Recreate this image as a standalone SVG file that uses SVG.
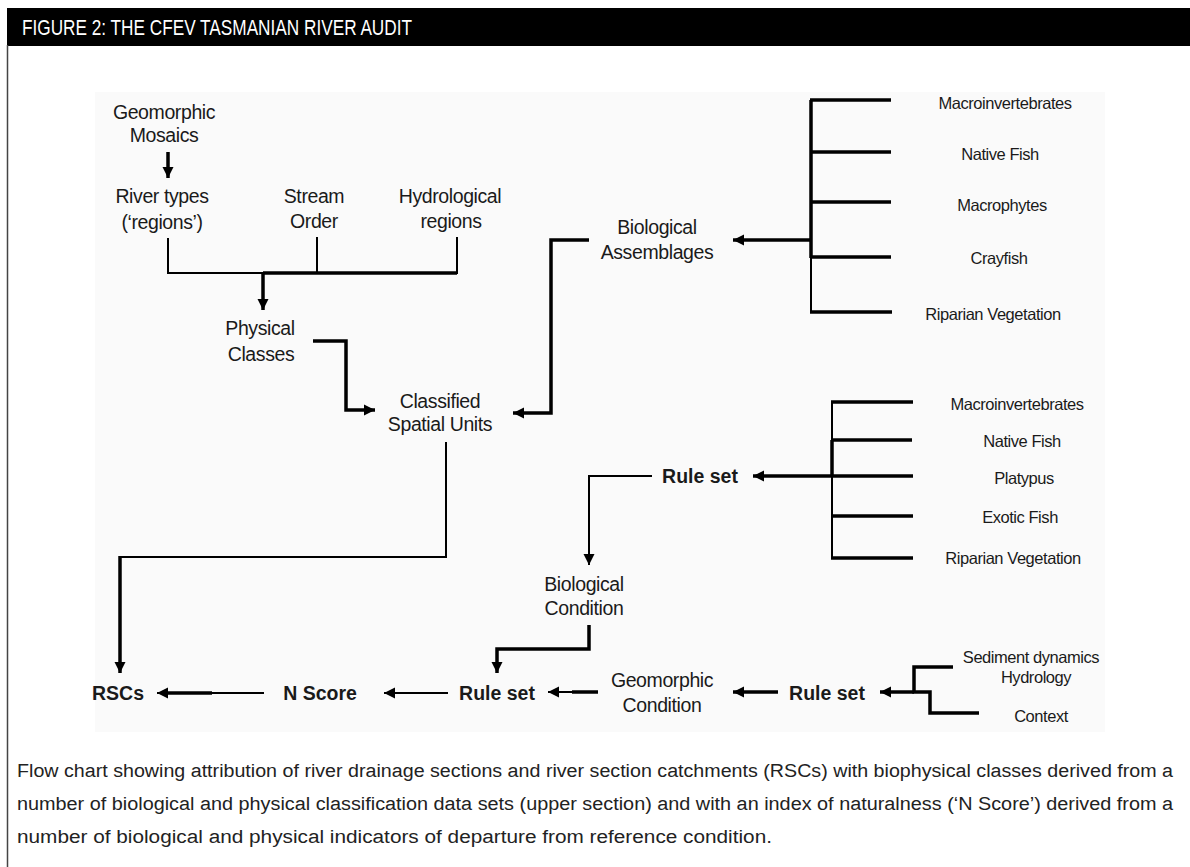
<svg xmlns="http://www.w3.org/2000/svg" width="1190" height="867" viewBox="0 0 1190 867">
<style>
.n{font-family:"Liberation Sans",Arial,sans-serif;font-size:19.5px;fill:#1a1a1a;text-anchor:middle;letter-spacing:-0.4px}
.b{font-family:"Liberation Sans",Arial,sans-serif;font-size:19.5px;font-weight:bold;fill:#1a1a1a;text-anchor:middle}
.s{font-family:"Liberation Sans",Arial,sans-serif;font-size:16.5px;fill:#1a1a1a;text-anchor:middle;letter-spacing:-0.45px}
.cap{font-family:"Liberation Sans Narrow","Liberation Sans",Arial,sans-serif;font-size:18px;fill:#222}
.tk{stroke:#000;stroke-width:3.5;fill:none}
.tn{stroke:#000;stroke-width:2;fill:none}
</style>
<defs>
<marker id="ah" markerUnits="userSpaceOnUse" markerWidth="12" markerHeight="12" refX="11" refY="6" orient="auto">
<path d="M0,0.5 L11,6 L0,11.5 z" fill="#000"/>
</marker>
</defs>
<rect width="1190" height="867" fill="#fff"/>
<rect x="7" y="8" width="1183" height="38" fill="#000"/>
<line x1="7.5" y1="45" x2="7.5" y2="867" stroke="#444" stroke-width="1.5"/>
<text x="22" y="35" font-family="'Liberation Sans Narrow','Liberation Sans',Arial,sans-serif" font-size="22" fill="#fff" textLength="390" lengthAdjust="spacingAndGlyphs">FIGURE 2: THE CFEV TASMANIAN RIVER AUDIT</text>
<rect x="95" y="92" width="1010" height="640" fill="#fafafa"/>

<g id="geomorphic-mosaics"><text class="n" x="164" y="119">Geomorphic</text><text class="n" x="164" y="142">Mosaics</text></g>
<g id="river-types"><text class="n" x="162" y="203">River types</text><text class="n" x="162" y="229">(‘regions’)</text></g>
<g id="stream-order"><text class="n" x="314" y="203">Stream</text><text class="n" x="314" y="228">Order</text></g>
<g id="hydrological-regions"><text class="n" x="450" y="203">Hydrological</text><text class="n" x="451" y="228">regions</text></g>
<g id="physical-classes"><text class="n" x="260" y="335">Physical</text><text class="n" x="261" y="361">Classes</text></g>
<g id="classified-spatial-units"><text class="n" x="440" y="408">Classified</text><text class="n" x="440" y="431">Spatial Units</text></g>
<g id="biological-assemblages"><text class="n" x="657" y="234">Biological</text><text class="n" x="657" y="259">Assemblages</text></g>
<g id="ba-inputs">
<text class="s" x="1005" y="109">Macroinvertebrates</text>
<text class="s" x="1000" y="160">Native Fish</text>
<text class="s" x="1002" y="211">Macrophytes</text>
<text class="s" x="999" y="264">Crayfish</text>
<text class="s" x="993" y="320">Riparian Vegetation</text>
</g>
<g id="rule-set-bio"><text class="b" x="700" y="483">Rule set</text></g>
<g id="bc-inputs">
<text class="s" x="1017" y="410">Macroinvertebrates</text>
<text class="s" x="1022" y="447">Native Fish</text>
<text class="s" x="1024" y="484">Platypus</text>
<text class="s" x="1020" y="523">Exotic Fish</text>
<text class="s" x="1013" y="564">Riparian Vegetation</text>
</g>
<g id="biological-condition"><text class="n" x="584" y="591">Biological</text><text class="n" x="584" y="615">Condition</text></g>
<g id="rscs"><text class="b" x="118" y="700">RSCs</text></g>
<g id="n-score"><text class="b" x="320" y="700">N Score</text></g>
<g id="rule-set-n"><text class="b" x="497" y="700">Rule set</text></g>
<g id="geomorphic-condition"><text class="n" x="662" y="687">Geomorphic</text><text class="n" x="662" y="712">Condition</text></g>
<g id="rule-set-geo"><text class="b" x="827" y="700">Rule set</text></g>
<g id="gc-inputs">
<text class="s" x="1031" y="663">Sediment dynamics</text>
<text class="s" x="1036" y="683">Hydrology</text>
<text class="s" x="1041" y="722">Context</text>
</g>

<g id="connectors">
<line class="tk" x1="168" y1="152" x2="168" y2="178" marker-end="url(#ah)"/>
<polyline class="tn" points="168,238 168,273 457,273 457,237"/>
<line class="tn" x1="317" y1="237" x2="317" y2="273"/>
<line class="tk" x1="263" y1="273" x2="457" y2="273"/>
<line class="tk" x1="263" y1="272" x2="263" y2="310" marker-end="url(#ah)"/>
<polyline class="tk" points="313,341 346,341 346,410 375,410" marker-end="url(#ah)"/>
<polyline class="tk" points="589,240 551,240 551,413 513,413" marker-end="url(#ah)"/>
<line class="tk" x1="811" y1="240" x2="733" y2="240" marker-end="url(#ah)"/>
<line class="tk" x1="811" y1="100" x2="811" y2="258"/>
<line class="tn" x1="811" y1="256" x2="811" y2="312"/>
<line class="tk" x1="810" y1="100" x2="891" y2="100"/>
<line class="tk" x1="810" y1="152" x2="891" y2="152"/>
<line class="tk" x1="810" y1="202" x2="891" y2="202"/>
<line class="tk" x1="810" y1="257" x2="891" y2="257"/>
<line class="tk" x1="810" y1="312" x2="892" y2="312"/>
<line class="tk" x1="832" y1="476" x2="753" y2="476" marker-end="url(#ah)"/>
<line class="tn" x1="832" y1="402" x2="832" y2="558"/>
<line class="tk" x1="832" y1="440" x2="832" y2="476"/>
<line class="tk" x1="831" y1="402" x2="913" y2="402"/>
<line class="tk" x1="831" y1="440" x2="912" y2="440"/>
<line class="tk" x1="831" y1="476" x2="913" y2="476"/>
<line class="tk" x1="831" y1="516" x2="913" y2="516"/>
<line class="tk" x1="831" y1="558" x2="913" y2="558"/>
<polyline class="tn" points="652,476 589,476 589,565" marker-end="url(#ah)"/>
<polyline class="tn" points="446,442 446,557 120,557"/>
<line class="tk" x1="120" y1="556" x2="120" y2="673" marker-end="url(#ah)"/>
<polyline class="tk" points="589,625 589,649 497,649 497,673" marker-end="url(#ah)"/>
<line class="tn" x1="264" y1="693" x2="157" y2="693" marker-end="url(#ah)"/>
<line class="tk" x1="212" y1="693" x2="165" y2="693"/>
<line class="tn" x1="448" y1="693" x2="384" y2="693" marker-end="url(#ah)"/>
<line class="tn" x1="598" y1="692" x2="548" y2="692" marker-end="url(#ah)"/>
<line class="tk" x1="598" y1="692" x2="572" y2="692"/>
<line class="tk" x1="778" y1="692" x2="733" y2="692" marker-end="url(#ah)"/>
<line class="tk" x1="914" y1="692" x2="880" y2="692" marker-end="url(#ah)"/>
<polyline class="tk" points="953,667 914,667 914,692 930,692 930,713 979,713"/>
</g>

<text class="cap" x="17" y="777" textLength="1156" lengthAdjust="spacingAndGlyphs">Flow chart showing attribution of river drainage sections and river section catchments (RSCs) with biophysical classes derived from a</text>
<text class="cap" x="17" y="810" textLength="1156" lengthAdjust="spacingAndGlyphs">number of biological and physical classification data sets (upper section) and with an index of naturalness (‘N Score’) derived from a</text>
<text class="cap" x="17" y="843" textLength="755" lengthAdjust="spacingAndGlyphs">number of biological and physical indicators of departure from reference condition.</text>
</svg>
